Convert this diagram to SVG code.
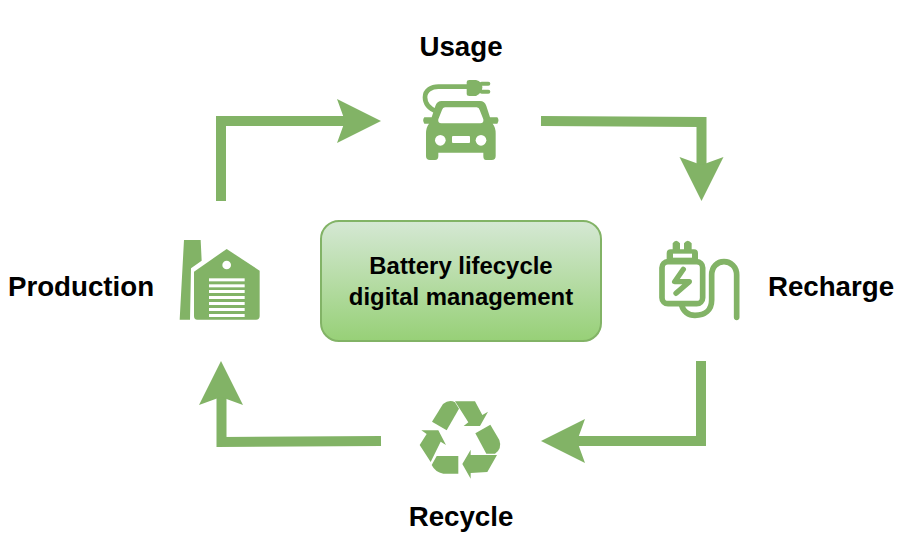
<svg xmlns="http://www.w3.org/2000/svg" width="900" height="540" viewBox="0 0 900 540">
<style>
.lb{font-family:"Liberation Sans",Arial,sans-serif;font-weight:bold;font-size:27.700px;fill:#000;text-anchor:middle}
.ct{font-family:"Liberation Sans",Arial,sans-serif;font-weight:bold;font-size:23.900px;fill:#000;text-anchor:middle}
.con{fill:none;stroke:#82b366;stroke-width:10;stroke-miterlimit:10}
.hd{fill:#82b366;stroke:none}
.g{fill:#82b366;stroke:none}
.s{fill:none;stroke:#82b366;stroke-linecap:round;stroke-linejoin:round}
.w{fill:#fff;stroke:none}
</style>
<defs>
<linearGradient id="bg" x1="0" y1="0" x2="0" y2="1"><stop offset="0" stop-color="#d5e8d4"/><stop offset="1" stop-color="#97d077"/></linearGradient>
</defs>
<rect width="900" height="540" fill="#fff"/>
<g id="connectors">
<path class="con" d="M221 201V121H345"/>
<path class="hd" d="M381 121L337 99L345 121L337 143Z"/>
<path class="con" d="M541 121L701.500 122V165"/>
<path class="hd" d="M701.500 201L679.500 157L701.500 165L723.500 157Z"/>
<path class="con" d="M701 361V441H577"/>
<path class="hd" d="M541 441L585 419L577 441L585 463Z"/>
<path class="con" d="M381 441L221.500 442V397"/>
<path class="hd" d="M221 361L199 405L221 397L243 405Z"/>
</g>
<g id="center">
<rect x="321" y="221" width="280" height="120" rx="18" fill="url(#bg)" stroke="#82b366" stroke-width="2"/>
<text class="ct" x="461" y="274">Battery lifecycle</text>
<text class="ct" x="461" y="305">digital management</text>
</g>
<g id="usage">
<text class="lb" x="461" y="56">Usage</text>
<g transform="translate(400 70) scale(.33333)">
<path class="s" stroke-width="14" d="M110 125C85 115 75 100 75 82C75 60 95 50 115 50H205"/>
<path class="g" d="M200 36Q200 30 208 30H228Q247 35 247 52Q247 70 228 78H208Q200 78 200 72Z"/>
<path class="s" stroke-width="12" d="M245 41H265M245 65H265"/>
<path class="g" fill-rule="evenodd" d="M125 93H240Q254 93 259 108L270 142H292Q299 150 292 161H278Q287 172 287 190V258Q287 270 275 270H258Q250 270 250 258V248H115V258Q115 270 105 270H90Q78 270 78 258V190Q78 172 87 161H73Q66 150 73 142H95L106 108Q111 93 125 93ZM135 112Q128 112 126 120L115 148Q113 160 124 160H241Q252 160 250 148L239 120Q237 112 230 112Z"/>
<circle class="w" cx="121" cy="211" r="16"/>
<circle class="w" cx="243" cy="211" r="16"/>
<rect class="w" x="156" y="198" width="54" height="21" rx="3"/>
</g>
</g>
<g id="recharge">
<text class="lb" x="831" y="296">Recharge</text>
<g transform="translate(640 230) scale(.33333)">
<rect x="66" y="95" width="122" height="126" rx="18" class="s" stroke-width="17"/>
<path class="g" d="M80 95V70Q80 58 92 58H98V40Q108 25 120 40V58H132V40Q143 25 155 40V58H162Q174 58 174 70V95Z"/>
<rect class="w" x="99" y="71" width="57" height="12"/>
<path class="s" stroke-width="16" d="M130 118L104 155H148L108 190"/>
<path class="s" stroke-width="17" d="M125 226C130 245 145 256 165 256C195 256 215 240 215 210V135C215 110 232 95 252 95C272 95 290 110 290 135V262"/>
</g>
</g>
<g id="recycle">
<text class="lb" x="461" y="526">Recycle</text>
<g transform="translate(400 390) scale(.33333)">
<path class="g" d="M96 95L129 42Q148 27 165 37L177 56L140 121Z"/>
<path class="g" d="M165 34H225L247 75L264 65L240 108H191L205 97Z"/>
<path class="g" d="M226 130L271 104L298 150Q307 176 285 191H259Z"/>
<path class="g" d="M291 195L262 246L212 249V266L187 222L212 179V195Z"/>
<path class="g" d="M175 198V251H130Q105 246 95 225L110 198Z"/>
<path class="g" d="M64 121H115L138 165L122 155L92 216L59 165L80 132Z"/>
</g>
</g>
<g id="production">
<text class="lb" x="81" y="296">Production</text>
<g transform="translate(160 230) scale(.33333)">
<path class="g" d="M72 30H122L125 92L93 115L90 269H59Z"/>
<path class="g" d="M102 125L200 57L299 122V258Q299 269 288 269H112Q102 269 102 258Z"/>
<circle class="w" cx="200" cy="105" r="13"/>
<g class="w">
<rect x="147" y="145" width="107" height="9"/>
<rect x="147" y="163" width="107" height="9"/>
<rect x="147" y="180" width="107" height="9"/>
<rect x="147" y="198" width="107" height="9"/>
<rect x="147" y="216" width="107" height="9"/>
<rect x="147" y="234" width="107" height="9"/>
<rect x="147" y="252" width="107" height="9"/>
</g>
</g>
</g>
</svg>
